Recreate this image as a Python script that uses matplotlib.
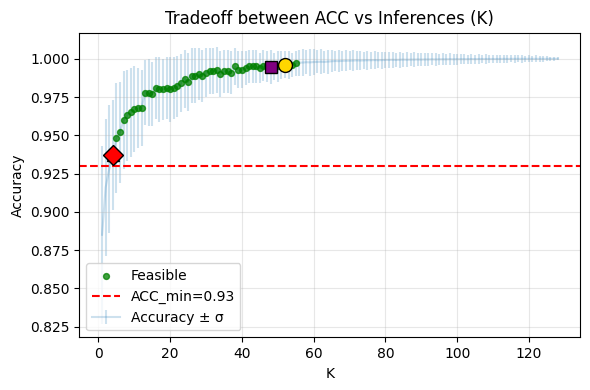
import numpy as np
import matplotlib
matplotlib.use("Agg")
import matplotlib.pyplot as plt

# number of inferences K = 1..128
k_values = list(range(1, 129))

acc_mean = [
    0.885, 0.916, 0.928, 0.937, 0.948, 0.952, 0.960, 0.963, 0.965, 0.967,
    0.968, 0.968, 0.978, 0.978, 0.977, 0.981, 0.980, 0.980, 0.981, 0.980,
    0.981, 0.982, 0.984, 0.987, 0.985, 0.989, 0.989, 0.990, 0.989, 0.991,
    0.992, 0.992, 0.993, 0.990, 0.992, 0.992, 0.991, 0.995, 0.993, 0.993,
    0.994, 0.995, 0.995, 0.995, 0.994, 0.9955, 0.995, 0.9945, 0.995, 0.995,
    0.996, 0.9962, 0.996, 0.996, 0.997, 0.9975, 0.9976, 0.9978, 0.9977, 0.9979,
    0.9980, 0.9981, 0.9980, 0.9982, 0.9984, 0.9986, 0.9985, 0.9987, 0.9988, 0.9988,
    0.9989, 0.9990, 0.9989, 0.9990, 0.9991, 0.9991, 0.9992, 0.9991, 0.9992, 0.9993,
    0.9993, 0.9994, 0.9993, 0.9994, 0.9995, 0.9994, 0.9995, 0.9995, 0.9996, 0.9995,
    0.9996, 0.9996, 0.9997, 0.9996, 0.9997, 0.9997, 0.9997, 0.9998, 0.9997, 0.9998,
    0.9998, 0.9998, 0.9998, 0.9999, 0.9998, 0.9999, 0.9999, 0.9999, 0.9999, 0.9999,
    0.9999, 0.9999, 1.0, 0.9999, 1.0, 1.0, 1.0, 1.0, 1.0, 1.0,
    1.0, 1.0, 1.0, 1.0, 1.0, 1.0, 1.0, 1.0,
]

acc_std = [
    0.058, 0.045, 0.042, 0.036, 0.036, 0.033, 0.032, 0.030, 0.029, 0.028,
    0.026, 0.025, 0.021, 0.022, 0.021, 0.020, 0.021, 0.020, 0.020, 0.021,
    0.020, 0.020, 0.019, 0.019, 0.019, 0.018, 0.018, 0.017, 0.017, 0.016,
    0.015, 0.015, 0.015, 0.015, 0.014, 0.014, 0.014, 0.012, 0.012, 0.012,
    0.011, 0.011, 0.011, 0.011, 0.010, 0.010, 0.010, 0.011, 0.009, 0.010,
    0.009, 0.009, 0.009, 0.008, 0.008, 0.0085, 0.009, 0.0080, 0.0088, 0.0086,
    0.0075, 0.0082, 0.0070, 0.0078, 0.0072, 0.0068, 0.0074, 0.0065, 0.0070, 0.0062,
    0.0066, 0.0060, 0.0064, 0.0058, 0.0061, 0.0055, 0.0059, 0.0052, 0.0056, 0.0054,
    0.0050, 0.0053, 0.0048, 0.0051, 0.0046, 0.0049, 0.0044, 0.0047, 0.0043, 0.0045,
    0.0041, 0.0044, 0.0039, 0.0042, 0.0037, 0.0040, 0.0035, 0.0038, 0.0034, 0.0035,
    0.0032, 0.0034, 0.0030, 0.0033, 0.0029, 0.0031, 0.0028, 0.0030, 0.0027, 0.0029,
    0.0026, 0.0028, 0.0024, 0.0027, 0.0023, 0.0026, 0.0022, 0.0025, 0.0021, 0.0023,
    0.0020, 0.0022, 0.0018, 0.0019, 0.0016, 0.0015, 0.0012, 0.0010,
]

acc_min = 0.93
feasible_max_k = 55

# highlighted choices
k_min_feasible = 4
k_knee = 48
k_best = 52

k_arr = np.array(k_values)
mean_arr = np.array(acc_mean)
std_arr = np.array(acc_std)

fig, ax = plt.subplots(figsize=(5.9, 3.9), dpi=100)
fig.subplots_adjust(left=0.1344, right=0.9836, top=0.916, bottom=0.135)

feas = (mean_arr >= acc_min) & (k_arr <= feasible_max_k)
ax.scatter(k_arr[feas], mean_arr[feas], s=18, color="green", alpha=0.75,
           label="Feasible", zorder=3)
ax.axhline(acc_min, color="red", linestyle="--", linewidth=1.5,
           label=f"ACC_min={acc_min}")
ax.errorbar(k_arr, mean_arr, yerr=std_arr, fmt="-", color="tab:blue",
            alpha=0.22, label="Accuracy ± σ", zorder=1)

i = k_values.index(k_min_feasible)
ax.plot(k_values[i], acc_mean[i], marker="^", color="black", markersize=8,
        zorder=4)
ax.plot(k_values[i], acc_mean[i], marker="D", color="red", mec="black",
        markersize=10, zorder=5)
i = k_values.index(k_knee)
ax.plot(k_values[i], acc_mean[i], marker="s", color="purple", mec="black",
        markersize=9, zorder=5)
i = k_values.index(k_best)
ax.plot(k_values[i], acc_mean[i], marker="o", color="gold", mec="black",
        markersize=10, zorder=5)

ax.set_title("Tradeoff between ACC vs Inferences (K)")
ax.set_xlabel("K")
ax.set_ylabel("Accuracy")
ax.grid(True, alpha=0.3)
ax.legend(loc="lower left")

plt.savefig("out.png")
